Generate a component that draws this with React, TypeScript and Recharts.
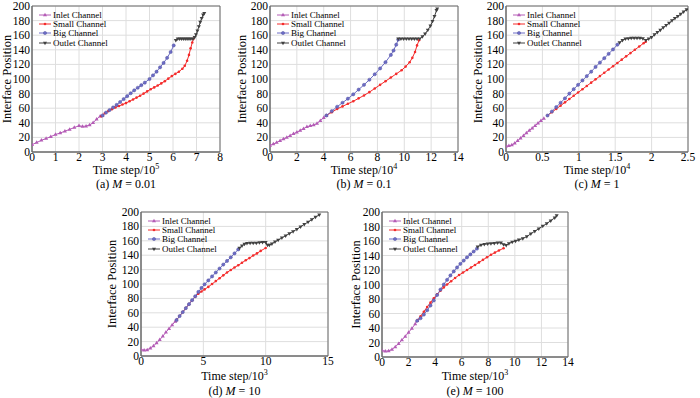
import React from 'react';
import { LineChart, Line, XAxis, YAxis, CartesianGrid, Legend, ReferenceArea } from 'recharts';

type Pt = [number, number];

// (a) M = 0.01, time step / 10^5
const inletA: Pt[] = [[0, 10], [0.2, 13], [0.4, 16], [0.6, 18.5], [0.8, 21], [1.0, 24], [1.2, 26], [1.4, 28.5], [1.6, 31], [1.8, 33.5], [2.0, 36], [2.15, 35], [2.3, 35.5], [2.45, 37], [2.6, 40], [2.75, 45], [2.9, 49], [3.0, 50]];
const smallA: Pt[] = [[2.95, 49], [3.1, 53], [3.25, 56], [3.4, 58.5], [3.55, 61], [3.7, 63], [3.85, 65], [4.0, 67], [4.15, 69.5], [4.3, 72], [4.45, 74.5], [4.6, 77], [4.75, 80], [4.9, 83], [5.05, 86], [5.2, 88.5], [5.35, 91], [5.5, 94], [5.65, 97], [5.8, 100.5], [5.95, 104], [6.1, 107], [6.25, 110], [6.4, 114], [6.5, 118], [6.6, 125], [6.68, 133], [6.75, 142], [6.82, 150], [6.87, 155]];
const bigA: Pt[] = [[3.0, 50], [3.15, 54], [3.3, 57.5], [3.45, 61], [3.6, 64.5], [3.75, 68.5], [3.9, 72.5], [4.05, 76.5], [4.2, 80.5], [4.35, 84.5], [4.5, 88], [4.65, 91.5], [4.8, 95], [5.0, 100], [5.15, 105], [5.3, 110], [5.45, 116], [5.6, 122], [5.75, 129], [5.9, 137], [6.03, 146]];
const outletA: Pt[] = [[6.12, 153], [6.2, 155], [6.28, 155], [6.36, 155], [6.44, 155], [6.52, 155], [6.6, 155], [6.68, 155], [6.76, 155], [6.85, 155], [6.92, 157], [6.98, 161], [7.04, 166], [7.1, 172], [7.16, 178], [7.22, 183], [7.28, 188], [7.33, 190]];

// (b) M = 0.1, time step / 10^4
const inletB: Pt[] = [[0, 9], [0.25, 11], [0.5, 13], [0.75, 15.5], [1, 18], [1.25, 20], [1.5, 22.5], [1.75, 25], [2, 27], [2.25, 29.5], [2.5, 32], [2.75, 34.5], [3, 36], [3.25, 37], [3.5, 39], [3.75, 43], [4, 47], [4.2, 50]];
const smallB: Pt[] = [[4.2, 50], [4.6, 54.5], [5, 59], [5.4, 62.5], [5.8, 66], [6.2, 69.5], [6.6, 73.5], [7, 77.5], [7.4, 82], [7.8, 87], [8.2, 92], [8.6, 97], [9, 102], [9.4, 107], [9.8, 112], [10.1, 117], [10.4, 123], [10.6, 129], [10.8, 137], [10.95, 146], [11.1, 153]];
const bigB: Pt[] = [[4.2, 50], [4.6, 56], [5, 62], [5.4, 67.5], [5.8, 73], [6.2, 79], [6.6, 85.5], [7, 92], [7.4, 99], [7.8, 106.5], [8.2, 114.5], [8.6, 123], [9, 133], [9.2, 139], [9.4, 147], [9.55, 154]];
const outletB: Pt[] = [[9.55, 155], [9.75, 155], [9.95, 155], [10.15, 155], [10.35, 155], [10.55, 155], [10.75, 155], [10.95, 155], [11.15, 155], [11.35, 158], [11.55, 162], [11.75, 167], [11.95, 173], [12.1, 179], [12.25, 186], [12.4, 194], [12.45, 196]];

// (c) M = 1, time step / 10^4
const inletC: Pt[] = [[0, 8], [0.04, 8.5], [0.08, 9.5], [0.12, 12], [0.16, 15.5], [0.2, 19], [0.24, 22.5], [0.28, 26], [0.32, 29.5], [0.36, 32.5], [0.4, 36], [0.44, 39.5], [0.48, 43], [0.52, 46]];
const smallC: Pt[] = [[0.57, 50], [0.63, 54.5], [0.69, 59], [0.75, 63.5], [0.81, 68], [0.87, 72.5], [0.93, 77], [0.99, 81.5], [1.05, 86], [1.11, 90.5], [1.17, 95], [1.23, 99.5], [1.29, 104], [1.35, 108.5], [1.41, 113], [1.47, 117.5], [1.53, 122], [1.59, 126.5], [1.65, 131], [1.71, 135.5], [1.77, 140], [1.83, 144.5], [1.89, 149], [1.92, 151]];
const bigC: Pt[] = [[0.57, 50], [0.63, 55.5], [0.69, 61.5], [0.75, 67.5], [0.81, 73.5], [0.87, 80], [0.93, 86], [0.99, 92], [1.05, 98], [1.11, 104], [1.17, 110], [1.23, 116.5], [1.29, 122.5], [1.35, 128.5], [1.41, 134.5], [1.47, 140.5], [1.53, 147]];
const outletC: Pt[] = [[1.56, 150], [1.6, 153], [1.64, 155], [1.68, 155.5], [1.72, 156], [1.76, 156], [1.8, 156], [1.84, 156], [1.88, 155.5], [1.92, 153], [1.96, 155], [2.0, 157], [2.04, 161], [2.08, 164], [2.12, 167], [2.16, 170.5], [2.2, 173.5], [2.24, 176.5], [2.28, 180], [2.32, 183], [2.36, 186], [2.4, 189], [2.44, 192], [2.48, 195]];

// (d) M = 10, time step / 10^3
const inletD: Pt[] = [[0, 9], [0.25, 8], [0.5, 8.5], [0.75, 11], [1, 14], [1.25, 18], [1.5, 22.5], [1.75, 27.5], [2, 33], [2.25, 38], [2.5, 43], [2.75, 48], [2.85, 50]];
const smallD: Pt[] = [[2.85, 50], [3.1, 55.5], [3.35, 61], [3.6, 66.5], [3.85, 72], [4.1, 77.5], [4.35, 82.5], [4.6, 86.5], [4.85, 89.5], [5.1, 92.5], [5.4, 96], [5.7, 100], [6, 104], [6.3, 108], [6.6, 112], [6.9, 116], [7.2, 119.5], [7.5, 123], [7.8, 126], [8.1, 129.5], [8.4, 133], [8.7, 136], [9, 139.5], [9.3, 142.5], [9.6, 146], [10, 150]];
const bigD: Pt[] = [[2.85, 50], [3.1, 55.5], [3.35, 61], [3.6, 66.5], [3.85, 72], [4.1, 77.5], [4.35, 83], [4.6, 89], [4.85, 94.5], [5.1, 99.5], [5.4, 105], [5.7, 110.5], [6, 116], [6.3, 121.5], [6.6, 127], [6.9, 132], [7.2, 137], [7.5, 142.5], [7.8, 148]];
const outletD: Pt[] = [[7.9, 150], [8.1, 153], [8.3, 155.5], [8.5, 156.5], [8.75, 157], [9, 157], [9.25, 157], [9.5, 157.5], [9.75, 158], [10, 158], [10.15, 154], [10.3, 154], [10.5, 156], [10.75, 158.5], [11, 161], [11.3, 164], [11.6, 167], [11.9, 170], [12.2, 173], [12.5, 176], [12.8, 179.5], [13.1, 183], [13.4, 186], [13.7, 189.5], [14, 193], [14.3, 196]];

// (e) M = 100, time step / 10^3
const inletE: Pt[] = [[0, 9], [0.25, 8], [0.5, 8.5], [0.75, 10.5], [1, 14], [1.25, 18.5], [1.5, 23.5], [1.75, 28.5], [2, 34], [2.25, 39.5], [2.5, 45.5], [2.65, 50]];
const smallE: Pt[] = [[2.65, 50], [2.9, 56], [3.15, 62.5], [3.4, 69], [3.65, 75], [3.9, 81], [4.15, 86.5], [4.4, 91.5], [4.65, 96], [4.9, 100], [5.2, 104.5], [5.5, 109], [5.8, 113], [6.1, 116.5], [6.4, 120], [6.7, 123.5], [7, 127], [7.3, 130.5], [7.6, 134], [7.9, 137.5], [8.2, 141], [8.5, 144], [8.8, 147], [9.15, 150]];
const bigE: Pt[] = [[2.65, 50], [2.9, 53.5], [3.15, 58.5], [3.4, 64.5], [3.65, 71], [3.9, 78], [4.15, 85.5], [4.4, 93], [4.65, 100], [4.9, 106.5], [5.15, 112.5], [5.4, 118], [5.65, 123.5], [5.9, 128.5], [6.15, 133], [6.4, 137.5], [6.65, 141.5], [6.9, 145.5], [7.15, 149.5]];
const outletE: Pt[] = [[7.2, 152], [7.45, 154.5], [7.7, 155.5], [7.95, 156], [8.2, 156.5], [8.45, 157], [8.7, 157.5], [8.95, 157.5], [9.15, 155], [9.35, 154], [9.55, 156.5], [9.8, 158.5], [10.05, 160], [10.3, 161.5], [10.6, 163.5], [10.9, 166], [11.2, 170], [11.5, 173.5], [11.8, 177], [12.1, 180.5], [12.4, 184], [12.7, 188], [13, 192], [13.15, 195]];

const yTicks = [0, 20, 40, 60, 80, 100, 120, 140, 160, 180, 200];
const xTicksA = [0, 1, 2, 3, 4, 5, 6, 7, 8];
const xTicksB = [0, 2, 4, 6, 8, 10, 12, 14];
const xTicksC = [0, 0.5, 1, 1.5, 2, 2.5];
const xTicksD = [0, 5, 10, 15];
const xTicksE = [0, 2, 4, 6, 8, 10, 12, 14];

const seriesNames = ['Inlet Channel', 'Small Channel', 'Big Channel', 'Outlet Channel'];

const FONT = "'Liberation Serif', 'Times New Roman', Times, serif";

const series = [
  { color: '#b45cb6', marker: 'triUp' },
  { color: '#f42b2b', marker: 'dot' },
  { color: '#6c6cc6', marker: 'circle' },
  { color: '#404040', marker: 'triDown' },
];

const toObj = (a: Pt[]) => a.map(([x, y]) => ({ x, y }));

function Marker({ kind, cx, cy, color }: { kind: string; cx: number; cy: number; color: string }) {
  if (kind === 'triUp')
    return <polygon points={`${cx},${cy - 2.2} ${cx - 2},${cy + 1.3} ${cx + 2},${cy + 1.3}`} fill={color} />;
  if (kind === 'triDown')
    return <polygon points={`${cx},${cy + 2.2} ${cx - 2},${cy - 1.3} ${cx + 2},${cy - 1.3}`} fill={color} />;
  if (kind === 'circle')
    return <circle cx={cx} cy={cy} r={1.6} fill={color} stroke="#55559f" strokeWidth={0.5} />;
  return <circle cx={cx} cy={cy} r={1.3} fill={color} />;
}

const LegendBox = () => (
  <div style={{ fontFamily: FONT, fontSize: 9, color: '#000' }}>
    {series.map((s, i) => (
      <div key={i} style={{ display: 'flex', alignItems: 'center', height: 9.4, whiteSpace: 'nowrap' }}>
        <svg width={12} height={8} style={{ marginRight: 2 }}>
          <line x1={0} x2={12} y1={4} y2={4} stroke={s.color} strokeWidth={1} />
          <Marker kind={s.marker} cx={6} cy={4} color={s.color} />
        </svg>
        <span>{seriesNames[i]}</span>
      </div>
    ))}
  </div>
);

const panels = [
  { key: 'a', left: 0, top: 0, width: 230, height: 200, margin: { top: 6, right: 10, bottom: 28, left: 0 }, yw: 32, labelOff: 7, domain: [0, 8], ticks: xTicksA, data: [inletA, smallA, bigA, outletA], exp: '5', m: '0.01', titleTop: 163, capTop: 177 },
  { key: 'b', left: 230, top: 0, width: 240, height: 200, margin: { top: 6, right: 12, bottom: 28, left: 0 }, yw: 40, labelOff: 12, domain: [0, 14], ticks: xTicksB, data: [inletB, smallB, bigB, outletB], exp: '4', m: '0.1', titleTop: 163, capTop: 177 },
  { key: 'c', left: 470, top: 0, width: 230, height: 200, margin: { top: 6, right: 12, bottom: 28, left: 0 }, yw: 36, labelOff: 8, domain: [0, 2.5], ticks: xTicksC, data: [inletC, smallC, bigC, outletC], exp: '4', m: '1', titleTop: 163, capTop: 177 },
  { key: 'd', left: 100, top: 200, width: 240, height: 198, margin: { top: 12, right: 12, bottom: 22, left: 0 }, yw: 41, labelOff: 12, domain: [0, 15], ticks: xTicksD, data: [inletD, smallD, bigD, outletD], exp: '3', m: '10', titleTop: 369, capTop: 384 },
  { key: 'e', left: 340, top: 200, width: 240, height: 198, margin: { top: 12, right: 12, bottom: 21, left: 0 }, yw: 42, labelOff: 16, domain: [0, 14], ticks: xTicksE, data: [inletE, smallE, bigE, outletE], exp: '3', m: '100', titleTop: 369, capTop: 384 },
];

const tickStyle = { fontFamily: FONT, fontSize: 11.5, fill: '#000' };

export default function App() {
  return (
    <div style={{ position: 'absolute', left: 0, top: 0, width: 700, height: 398, background: '#fff', overflow: 'hidden' }}>
      {panels.map((p) => {
        const plotLeft = p.left + p.yw;
        const plotW = p.width - p.yw - p.margin.right;
        return (
          <React.Fragment key={p.key}>
            <div style={{ position: 'absolute', left: p.left, top: p.top }}>
              <LineChart width={p.width} height={p.height} margin={p.margin}>
                <CartesianGrid stroke="#dedede" />
                <XAxis
                  type="number"
                  dataKey="x"
                  domain={p.domain}
                  ticks={p.ticks}
                  interval={0}
                  allowDataOverflow
                  height={20}
                  tickLine={false}
                  tickSize={0}
                  tickMargin={1}
                  tick={tickStyle}
                  stroke="#6a6a6a"
                />
                <YAxis
                  type="number"
                  domain={[0, 200]}
                  ticks={yTicks}
                  interval={0}
                  width={p.yw}
                  tickLine={false}
                  tickSize={0}
                  tickMargin={2}
                  tick={tickStyle}
                  stroke="#6a6a6a"
                  label={{ value: 'Interface Position', angle: -90, position: 'insideLeft', offset: p.labelOff, style: { textAnchor: 'middle', fontFamily: FONT, fontSize: 12.5, fill: '#000' } }}
                />
                <ReferenceArea x1={p.domain[0]} x2={p.domain[1]} y1={0} y2={200} fill="none" fillOpacity={0} stroke="#6a6a6a" strokeWidth={1} />
                {p.data.map((d, i) => (
                  <Line
                    key={i}
                    data={toObj(d)}
                    dataKey="y"
                    name={seriesNames[i]}
                    type="linear"
                    stroke={series[i].color}
                    strokeWidth={1}
                    isAnimationActive={false}
                    activeDot={false}
                    dot={(dp: any) => (
                      <Marker key={`${i}-${dp.index}`} kind={series[i].marker} cx={dp.cx} cy={dp.cy} color={series[i].color} />
                    )}
                  />
                ))}
                <Legend
                  layout="vertical"
                  align="center"
                  verticalAlign="middle"
                  content={() => <LegendBox />}
                  wrapperStyle={{ top: p.margin.top + 4, left: p.yw + 7, width: 'auto', height: 'auto' }}
                />
              </LineChart>
            </div>
            <div style={{ position: 'absolute', left: plotLeft, top: p.titleTop, width: plotW, textAlign: 'center', fontFamily: FONT, fontSize: 12, lineHeight: '14px' }}>
              Time step/10<span style={{ fontSize: 8, position: 'relative', top: -5 }}>{p.exp}</span>
            </div>
            <div style={{ position: 'absolute', left: plotLeft, top: p.capTop, width: plotW, textAlign: 'center', fontFamily: FONT, fontSize: 12, lineHeight: '14px' }}>
              ({p.key}) <i>M</i> = {p.m}
            </div>
          </React.Fragment>
        );
      })}
    </div>
  );
}
